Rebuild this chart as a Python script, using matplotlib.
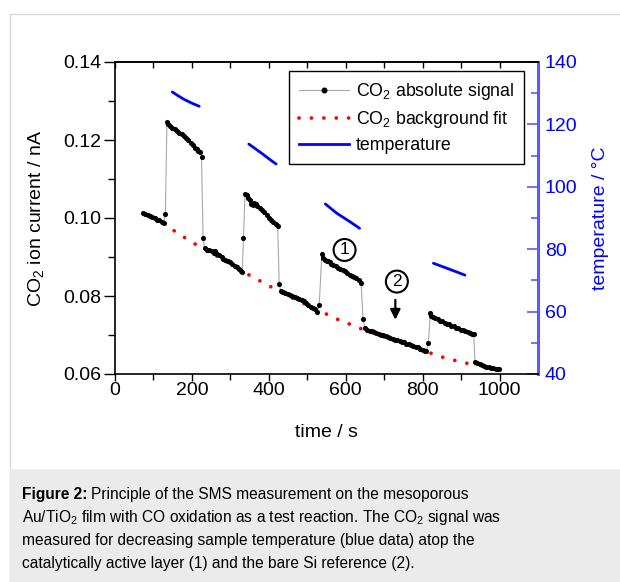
import matplotlib
matplotlib.use("Agg")
import matplotlib.pyplot as plt
from matplotlib.patches import Rectangle

plt.rcParams['font.family'] = ['Liberation Sans', 'DejaVu Sans']
plt.rcParams['mathtext.fontset'] = 'custom'
plt.rcParams['mathtext.rm'] = 'Liberation Sans'
plt.rcParams['mathtext.it'] = 'Liberation Sans:italic'
plt.rcParams['mathtext.bf'] = 'Liberation Sans:bold'

# CO2 absolute signal (time s, current nA)
seg_a_t = [73, 79, 85, 91, 97, 103, 109, 115, 121, 127, 131]
seg_a_v = [0.1014, 0.1011, 0.1008, 0.1006, 0.1002, 0.0999, 0.0996, 0.0994, 0.0990, 0.0986, 0.1010]
seg_b_t = [135, 139, 143, 149, 155, 161, 167, 173, 179, 185, 191, 197, 203, 209, 213, 217, 221, 225, 229]
seg_b_v = [0.1247, 0.1240, 0.1236, 0.1232, 0.1228, 0.1224, 0.1219, 0.1215, 0.1210, 0.1204,
           0.1199, 0.1193, 0.1187, 0.1180, 0.1176, 0.1173, 0.1170, 0.1157, 0.0950]
seg_c_t = [233, 239, 245, 251, 257, 261, 265, 271, 277, 281, 287, 293, 299, 305, 311, 317, 323, 327, 331, 334]
seg_c_v = [0.0923, 0.0919, 0.0917, 0.0915, 0.0911, 0.0915, 0.0907, 0.0904, 0.0900, 0.0895,
           0.0893, 0.0890, 0.0887, 0.0882, 0.0878, 0.0874, 0.0869, 0.0865, 0.0862, 0.0948]
seg_d_t = [338, 342, 346, 350, 354, 358, 362, 366, 370, 376, 382, 388, 394, 400, 406, 412, 418, 423, 427]
seg_d_v = [0.1062, 0.1058, 0.1052, 0.1046, 0.1036, 0.1034, 0.1039, 0.1036, 0.1030, 0.1025,
           0.1020, 0.1015, 0.1008, 0.1001, 0.0996, 0.0991, 0.0985, 0.0980, 0.0830]
seg_e_t = [431, 437, 443, 449, 455, 461, 467, 473, 479, 485, 491, 497, 503, 509, 515, 521, 526, 531]
seg_e_v = [0.0813, 0.0810, 0.0807, 0.0805, 0.0802, 0.0800, 0.0797, 0.0794, 0.0792, 0.0789,
           0.0786, 0.0781, 0.0777, 0.0773, 0.0770, 0.0767, 0.0760, 0.0776]
seg_f_t = [538, 542, 546, 550, 554, 558, 562, 568, 574, 580, 586, 592, 598, 604, 610, 616, 622, 628, 634, 640, 645]
seg_f_v = [0.0908, 0.0898, 0.0893, 0.0890, 0.0889, 0.0887, 0.0882, 0.0879, 0.0876, 0.0873,
           0.0870, 0.0866, 0.0863, 0.0859, 0.0855, 0.0852, 0.0849, 0.0846, 0.0842, 0.0833, 0.0741]
seg_g_t = [650, 656, 662, 668, 674, 680, 686, 692, 698, 704, 710, 716, 722, 728, 734, 740, 746,
           752, 758, 764, 770, 776, 782, 788, 794, 800, 806, 810, 815]
seg_g_v = [0.0717, 0.0713, 0.0711, 0.0709, 0.0707, 0.0705, 0.0703, 0.0701, 0.0699, 0.0697,
           0.0695, 0.0693, 0.0690, 0.0688, 0.0686, 0.0684, 0.0682, 0.0681, 0.0678, 0.0676,
           0.0674, 0.0672, 0.0670, 0.0668, 0.0665, 0.0662, 0.0658, 0.0660, 0.0680]
seg_h_t = [820, 823, 827, 833, 839, 845, 851, 857, 863, 869, 875, 881, 887, 893, 899, 905, 911,
           917, 923, 929, 933]
seg_h_v = [0.0756, 0.0750, 0.0746, 0.0743, 0.0740, 0.0737, 0.0735, 0.0732, 0.0729, 0.0727,
           0.0724, 0.0722, 0.0719, 0.0717, 0.0714, 0.0712, 0.0710, 0.0708, 0.0705, 0.0703, 0.0702]
seg_i_t = [936, 942, 948, 954, 960, 966, 972, 978, 984, 990, 996, 999]
seg_i_v = [0.0632, 0.0628, 0.0625, 0.0623, 0.0621, 0.0619, 0.0618, 0.0616, 0.0615, 0.0614, 0.0613, 0.0613]

# CO2 background fit
fit_t = [127, 140, 170, 201, 230, 260, 290, 320, 359, 390, 421, 450, 480, 510, 547, 577,
         610, 640, 670, 700, 730, 760, 790, 828, 859, 891, 922, 935]
fit_v = [0.0985, 0.0976, 0.0957, 0.0937, 0.0922, 0.0905, 0.0888, 0.0870, 0.0848, 0.0832,
         0.0815, 0.0800, 0.0786, 0.0771, 0.0755, 0.0741, 0.0728, 0.0716, 0.0706, 0.0695,
         0.0685, 0.0675, 0.0665, 0.0651, 0.0641, 0.0633, 0.0626, 0.0623]

# sample temperature (deg C), four separate runs
temp_t = [[149, 165, 180, 200, 219],
          [348, 365, 383, 401, 419],
          [547, 577, 611, 636],
          [828, 863, 910]]
temp_v = [[130.4, 129.1, 128.0, 126.8, 125.8],
          [113.7, 112.2, 110.6, 108.9, 107.3],
          [94.5, 91.5, 88.8, 86.7],
          [75.5, 73.9, 71.7]]

sig_t = seg_a_t + seg_b_t + seg_c_t + seg_d_t + seg_e_t + seg_f_t + seg_g_t + seg_h_t + seg_i_t
sig_v = seg_a_v + seg_b_v + seg_c_v + seg_d_v + seg_e_v + seg_f_v + seg_g_v + seg_h_v + seg_i_v

W, H = 620, 582
fig = plt.figure(figsize=(W / 100, H / 100), dpi=100)

# panel frame and caption box
fig.patches.append(Rectangle((10 / W, -0.01), 1.0, 1 - 14 / H + 0.01, transform=fig.transFigure,
                             fc='white', ec='#d8d8d8', lw=1.0, zorder=-3))
fig.patches.append(Rectangle((10 / W, 0), 1.0, 1 - 469 / H, transform=fig.transFigure,
                             fc='#ebebeb', ec='none', zorder=-2))

ax = fig.add_axes([115 / W, 1 - 374 / H, 423 / W, 312 / H])
ax2 = ax.twinx()
ax2.set_zorder(1)
ax.set_zorder(2)
ax.patch.set_alpha(0)
ax2.patch.set_alpha(0)

blue_axis = '#5a5aff'

ax.plot(fit_t, fit_v, color='red', lw=2.7, linestyle=(0, (0.01, 3.3)),
        dash_capstyle='round', zorder=2)
ax.plot(sig_t, sig_v, color='#a8a8a8', lw=0.8, marker='o', ms=3.7,
        mfc='black', mec='black', mew=0, zorder=3)

for tt, vv in zip(temp_t, temp_v):
    ax2.plot(tt, vv, color='#0000ff', lw=2.0, solid_capstyle='round')

ax.set_xlim(0, 1100)
ax.set_ylim(0.06, 0.14)
ax2.set_ylim(40, 140)

ax.set_xticks(range(0, 1001, 200))
ax.set_xticks(range(100, 1000, 200), minor=True)
ax.set_yticks([0.06, 0.08, 0.10, 0.12, 0.14])
ax.set_yticks([0.07, 0.09, 0.11, 0.13], minor=True)
ax.set_yticklabels(['0.06', '0.08', '0.10', '0.12', '0.14'])
ax2.set_yticks(range(40, 141, 20))
ax2.set_yticks(range(50, 140, 20), minor=True)

ax.tick_params(axis='x', which='major', direction='out', length=5, width=1, labelsize=14, pad=1)
ax.tick_params(axis='x', which='minor', direction='out', length=4, width=1)
ax.tick_params(axis='y', which='major', direction='out', length=8, width=1, labelsize=14, pad=2)
ax.tick_params(axis='y', which='minor', direction='out', length=5, width=1)
ax2.tick_params(axis='y', which='major', direction='in', length=8, width=1.2,
                colors=blue_axis, labelcolor='#0000ff', labelsize=14, pad=5)
ax2.tick_params(axis='y', which='minor', direction='in', length=5, width=1.2, colors=blue_axis)

top = ax.secondary_xaxis('top')
top.set_xticks(range(0, 1001, 100))
top.tick_params(direction='in', length=4, width=1, labeltop=False)
top.spines['top'].set_linewidth(1.2)

for side in ['left', 'bottom']:
    ax.spines[side].set_linewidth(1.2)
ax.spines['right'].set_visible(False)
ax.spines['top'].set_linewidth(1.2)
for side in ['left', 'bottom', 'top']:
    ax2.spines[side].set_visible(False)
ax2.spines['right'].set_color(blue_axis)
ax2.spines['right'].set_linewidth(2.2)

ax.set_xlabel('time / s', fontsize=14, labelpad=18)
ax.set_ylabel('CO$_2$ ion current / nA', fontsize=14, labelpad=12)
ax2.set_ylabel('temperature / \u00b0C', fontsize=14, color='#0000ff', labelpad=10)

# annotations (1) and (2)
ax.text(597, 0.0918, '1', fontsize=12.5, ha='center', va='center',
        bbox=dict(boxstyle='circle,pad=0.2', fc='none', ec='black', lw=1.5))
ax.text(733, 0.0837, '2', fontsize=12.5, ha='center', va='center',
        bbox=dict(boxstyle='circle,pad=0.2', fc='none', ec='black', lw=1.5))
ax.annotate('', xy=(729, 0.0732), xytext=(729, 0.0797),
            arrowprops=dict(arrowstyle='-|>,head_width=0.3,head_length=0.6', color='black', lw=1.6))

# legend
h1, = ax.plot([], [], color='#a8a8a8', lw=0.8, marker='o', ms=3.3, mfc='black', mec='black')
h2, = ax.plot([], [], color='red', lw=2.7, linestyle=(0, (0.01, 3.3)), dash_capstyle='round')
h3, = ax.plot([], [], color='#0000ff', lw=2.0)
leg = ax.legend([h1, h2, h3], ['CO$_2$ absolute signal', 'CO$_2$ background fit', 'temperature'],
                loc='upper right', bbox_to_anchor=(0.967, 0.971), fontsize=12.8,
                frameon=True, fancybox=False, edgecolor='black', framealpha=1,
                handlelength=2.8, handletextpad=0.4, labelspacing=0.4, borderpad=0.55,
                numpoints=1, borderaxespad=0)
leg.get_frame().set_linewidth(1.0)

# caption
cap_fs = 11.2
renderer = fig.canvas.get_renderer()
bold = fig.text(22 / W, 1 - 499 / H, 'Figure 2:', fontsize=cap_fs, fontweight='bold', va='baseline')
bb = bold.get_window_extent(renderer)
fig.text(bb.x1 / W + 3 / W, 1 - 499 / H,
         'Principle of the SMS measurement on the mesoporous', fontsize=cap_fs, va='baseline')
fig.text(22 / W, 1 - 522 / H,
         'Au/TiO$_2$ film with CO oxidation as a test reaction. The CO$_2$ signal was',
         fontsize=cap_fs, va='baseline')
fig.text(22 / W, 1 - 545 / H,
         'measured for decreasing sample temperature (blue data) atop the',
         fontsize=cap_fs, va='baseline')
fig.text(22 / W, 1 - 568 / H,
         'catalytically active layer (1) and the bare Si reference (2).',
         fontsize=cap_fs, va='baseline')

fig.savefig('out.png', dpi=100)
